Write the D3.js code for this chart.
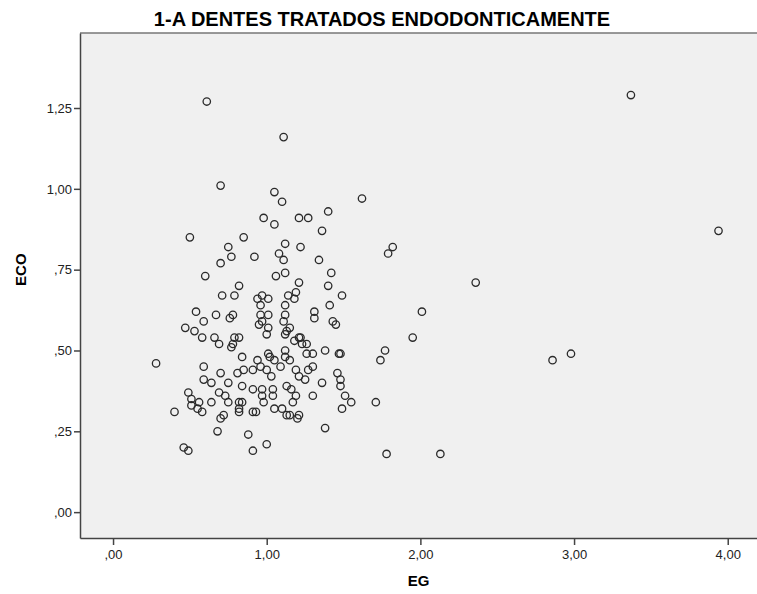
<!DOCTYPE html>
<html>
<head>
<meta charset="utf-8">
<title>1-A DENTES TRATADOS ENDODONTICAMENTE</title>
<script src="https://cdnjs.cloudflare.com/ajax/libs/d3/7.8.5/d3.min.js"></script>
<style>
body { margin: 0; background: #fff; }
svg { display: block; font-family: "Liberation Sans", Arial, sans-serif; }
.axis path, .axis line { stroke: #444; stroke-width: 1.5; }
.axis text { font-size: 13px; fill: #222; }
.dot { fill: none; stroke: #2a2a2a; stroke-width: 1.3; }
</style>
</head>
<body>
<svg id="chart"></svg>
<script>
// values, one pair per point
var egValues = [
  0.61, 1.11, 3.37, 3.94, 2.98, 2.86, 1.82, 1.79, 2.36, 2.01, 1.95, 1.77, 1.74, 1.71, 1.78, 2.13,
  0.70, 0.98, 0.50, 0.85, 0.75, 0.77, 0.70, 0.92, 0.60, 0.82, 0.71, 0.79, 0.94, 0.97, 1.01,
  1.05, 1.10, 1.62, 1.05, 1.21, 1.27, 1.40, 1.36, 1.12, 1.22, 1.08, 1.11, 1.34, 1.42, 1.12,
  1.06, 1.21, 1.40, 1.49, 1.14, 1.19, 1.18, 1.12, 1.41,
  0.54, 0.67, 0.59, 0.76, 0.78, 0.47, 0.53, 0.58, 0.66, 0.69, 0.79, 0.82, 0.77, 0.78, 0.28,
  0.84, 0.94, 0.59, 0.70, 0.81, 0.85, 0.91, 0.96, 0.59, 0.64, 0.75, 0.84, 0.91, 0.97, 0.49,
  0.69, 0.73, 0.51, 0.56, 0.51, 0.64, 0.75, 0.82, 0.84, 0.82, 0.82, 0.91, 0.93, 0.97, 0.98,
  0.40, 0.55, 0.58, 0.72, 0.70, 0.68, 0.88, 0.46, 0.49, 0.91, 1.00,
  0.96, 0.96, 1.01, 0.97, 0.95, 1.01, 1.00,
  1.31, 1.31, 1.12, 1.43, 1.45, 1.11, 1.15, 1.13, 1.12, 1.21, 1.22, 1.18, 1.23, 1.26, 1.01,
  1.02, 1.12, 1.26, 1.30, 1.38, 1.47, 1.48, 1.05, 1.15, 1.12, 1.00, 1.03, 1.09, 1.19, 1.21,
  1.27, 1.30, 1.25, 1.46, 1.48, 1.48, 1.36, 1.13, 1.16, 1.04, 1.19, 1.04, 1.30, 1.51, 1.55,
  1.17, 1.49, 1.05, 1.10, 1.13, 1.15, 1.20, 1.21, 1.38
];
var ecoValues = [
  1.27, 1.16, 1.29, 0.87, 0.49, 0.47, 0.82, 0.80, 0.71, 0.62, 0.54, 0.50, 0.47, 0.34, 0.18, 0.18,
  1.01, 0.91, 0.85, 0.85, 0.82, 0.79, 0.77, 0.79, 0.73, 0.70, 0.67, 0.67, 0.66, 0.67, 0.66,
  0.99, 0.96, 0.97, 0.89, 0.91, 0.91, 0.93, 0.87, 0.83, 0.82, 0.80, 0.78, 0.78, 0.74, 0.74,
  0.73, 0.71, 0.70, 0.67, 0.67, 0.68, 0.66, 0.64, 0.64,
  0.62, 0.61, 0.59, 0.60, 0.61, 0.57, 0.56, 0.54, 0.54, 0.52, 0.54, 0.54, 0.51, 0.52, 0.46,
  0.48, 0.47, 0.45, 0.43, 0.43, 0.44, 0.44, 0.45, 0.41, 0.40, 0.40, 0.39, 0.38, 0.38, 0.37,
  0.37, 0.36, 0.35, 0.34, 0.33, 0.34, 0.34, 0.34, 0.34, 0.32, 0.31, 0.31, 0.31, 0.36, 0.34,
  0.31, 0.32, 0.31, 0.30, 0.29, 0.25, 0.24, 0.20, 0.19, 0.19, 0.21,
  0.64, 0.61, 0.61, 0.59, 0.58, 0.57, 0.55,
  0.62, 0.60, 0.61, 0.59, 0.58, 0.59, 0.57, 0.56, 0.55, 0.54, 0.54, 0.53, 0.52, 0.52, 0.49,
  0.48, 0.50, 0.49, 0.49, 0.50, 0.49, 0.49, 0.47, 0.47, 0.48, 0.44, 0.42, 0.45, 0.44, 0.42,
  0.44, 0.45, 0.41, 0.43, 0.41, 0.39, 0.40, 0.39, 0.38, 0.38, 0.36, 0.36, 0.36, 0.36, 0.34,
  0.34, 0.32, 0.32, 0.32, 0.30, 0.30, 0.29, 0.30, 0.26
];
var xTicks = [0, 1, 2, 3, 4];
var yTicks = [0, 0.25, 0.5, 0.75, 1, 1.25];

var width = 757, height = 594;
var plot = { left: 80, top: 33, right: 760, bottom: 538 };

var svg = d3.select("#chart")
  .attr("width", width)
  .attr("height", height);

var x = d3.scaleLinear()
  .domain([-0.215, 4.21])
  .range([plot.left, plot.right]);

var y = d3.scaleLinear()
  .domain([-0.08, 1.482])
  .range([plot.bottom, plot.top]);

// SPSS style numbers: comma decimal, no leading zero
function spss(v) {
  return d3.format(".2f")(v).replace(".", ",").replace(/^0/, "");
}

svg.append("rect")
  .attr("x", plot.left)
  .attr("y", plot.top)
  .attr("width", plot.right - plot.left)
  .attr("height", plot.bottom - plot.top)
  .attr("fill", "#f0f0f0");

svg.append("line")
  .attr("x1", plot.left).attr("x2", plot.right)
  .attr("y1", plot.top).attr("y2", plot.top)
  .attr("stroke", "#777")
  .attr("stroke-width", 1.5);

svg.append("g")
  .attr("class", "axis")
  .attr("transform", "translate(0," + plot.bottom + ")")
  .call(d3.axisBottom(x).tickValues(xTicks).tickSize(7).tickSizeOuter(0).tickPadding(5).tickFormat(spss));

svg.append("g")
  .attr("class", "axis")
  .attr("transform", "translate(" + plot.left + ",0)")
  .call(d3.axisLeft(y).tickValues(yTicks).tickSize(6).tickSizeOuter(0).tickPadding(2).tickFormat(spss));

var points = egValues.map(function(d, i) {
  return { eg: d, eco: ecoValues[i] };
});

svg.selectAll(".dot")
  .data(points)
  .enter().append("circle")
  .attr("class", "dot")
  .attr("cx", function(d) { return x(d.eg); })
  .attr("cy", function(d) { return y(d.eco); })
  .attr("r", 3.7);

svg.append("text")
  .attr("x", 382)
  .attr("y", 26)
  .attr("text-anchor", "middle")
  .style("font-size", "20px")
  .style("font-weight", "bold")
  .text("1-A DENTES TRATADOS ENDODONTICAMENTE");

svg.append("text")
  .attr("x", (plot.left + width) / 2)
  .attr("y", 586)
  .attr("text-anchor", "middle")
  .style("font-size", "15px")
  .style("font-weight", "bold")
  .text("EG");

svg.append("text")
  .attr("transform", "translate(26," + y(0.75) + ") rotate(-90)")
  .attr("text-anchor", "middle")
  .style("font-size", "15px")
  .style("font-weight", "bold")
  .text("ECO");
</script>
</body>
</html>
